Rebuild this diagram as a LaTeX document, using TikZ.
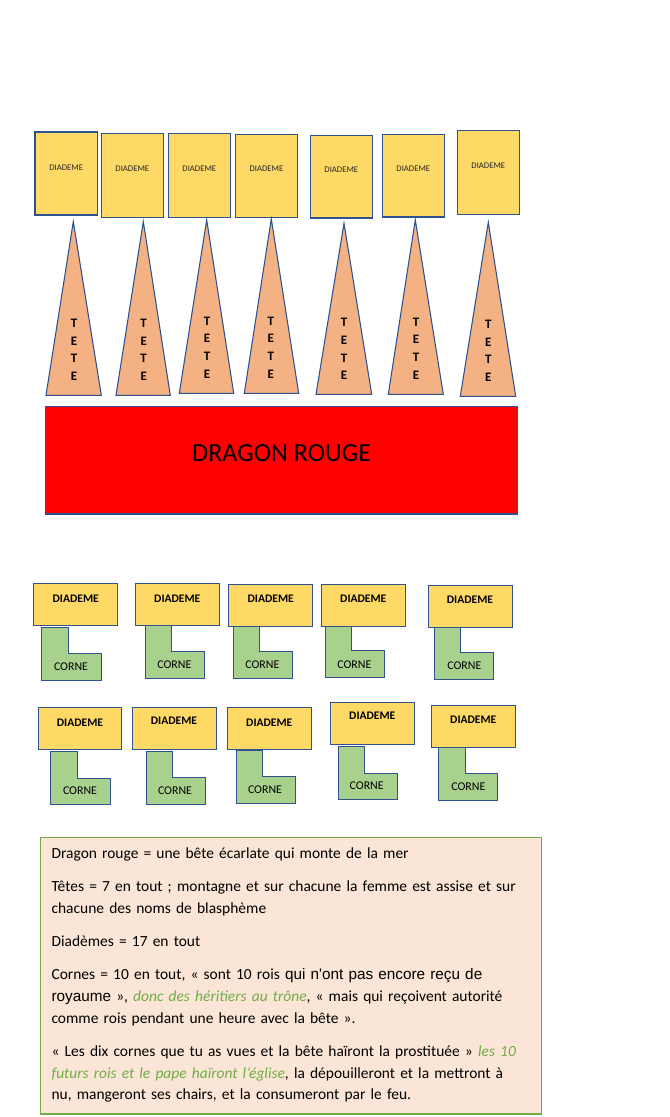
\documentclass[tikz,border=0pt]{standalone}
\usepackage{fontspec}
\setmainfont{Carlito}
\newfontfamily\arialfont[Scale=0.99]{Liberation Sans}
\definecolor{bordBleu}{RGB}{47,82,143}
\definecolor{jauneDiad}{RGB}{255,217,102}
\definecolor{saumonTete}{RGB}{244,177,131}
\definecolor{vertCorne}{RGB}{169,209,142}
\definecolor{rougeDragon}{RGB}{255,0,0}
\definecolor{peche}{RGB}{251,229,214}
\definecolor{vertTexte}{RGB}{112,173,71}
\definecolor{texteSombre}{RGB}{38,38,38}

\tikzset{
  diadHaut/.style={draw=bordBleu,fill=jauneDiad,line width=0.8pt},
  motHaut/.style={text=texteSombre,inner sep=0pt,font=\fontsize{6.5}{7.5}\selectfont},
  teteTri/.style={draw=bordBleu,fill=saumonTete,line width=0.8pt,line join=miter},
  motTete/.style={align=center,inner sep=0pt,font=\bfseries\fontsize{9.7}{13.3}\selectfont},
  diadBas/.style={draw=bordBleu,fill=jauneDiad,line width=0.8pt},
  motDiad/.style={inner sep=0pt,font=\bfseries\fontsize{8.7}{10}\selectfont},
  corneL/.style={draw=bordBleu,fill=vertCorne,line width=0.8pt},
  motCorne/.style={inner sep=0pt,font=\fontsize{8.9}{10}\selectfont},
  cadreNotes/.style={draw=vertTexte,fill=peche,line width=0.8pt}
}

\begin{document}
\begin{tikzpicture}[x=0.75pt,y=0.75pt]
\path[use as bounding box] (0,0) rectangle (670,-1117);

% les sept diademes du haut
\draw[diadHaut] (35,-132) rectangle (97.5,-215);
\node[motHaut] (dh1) at (66.2,-167.3) {DIADEME};
\draw[diadHaut] (101.3,-133.3) rectangle (163.3,-217.3);
\node[motHaut] (dh2) at (132.3,-169) {DIADEME};
\draw[diadHaut] (168.3,-133.3) rectangle (230.3,-217.3);
\node[motHaut] (dh3) at (199.3,-169) {DIADEME};
\draw[diadHaut] (235.3,-134.3) rectangle (297.7,-217.3);
\node[motHaut] (dh4) at (266.5,-168.7) {DIADEME};
\draw[diadHaut] (310.3,-135.3) rectangle (372.3,-218);
\node[motHaut] (dh5) at (341.3,-169.7) {DIADEME};
\draw[diadHaut] (382.3,-134.3) rectangle (444.3,-217);
\node[motHaut] (dh6) at (413.3,-168.7) {DIADEME};
\draw[diadHaut] (457.3,-130.3) rectangle (519.3,-214.3);
\node[motHaut] (dh7) at (488.3,-165.7) {DIADEME};

% les sept tetes
\draw[teteTri] (73.3,-221.7) -- (101.3,-395.3) -- (46,-395.3) -- cycle;
\node[motTete] (t1) at (74,-349.9) {T\\E\\T\\E};
\draw[teteTri] (143.3,-221.7) -- (170.3,-395.3) -- (116,-395.3) -- cycle;
\node[motTete] (t2) at (143.7,-349.9) {T\\E\\T\\E};
\draw[teteTri] (206.7,-220) -- (233.7,-393.3) -- (179.3,-393.3) -- cycle;
\node[motTete] (t3) at (207,-347.5) {T\\E\\T\\E};
\draw[teteTri] (271.3,-219) -- (298.7,-393.3) -- (244.3,-393.3) -- cycle;
\node[motTete] (t4) at (270.7,-347.5) {T\\E\\T\\E};
\draw[teteTri] (344,-223.3) -- (371.7,-394.3) -- (316,-394.3) -- cycle;
\node[motTete] (t5) at (344,-349.2) {T\\E\\T\\E};
\draw[teteTri] (415.3,-220) -- (443.3,-394.3) -- (388.3,-394.3) -- cycle;
\node[motTete] (t6) at (416,-348.5) {T\\E\\T\\E};
\draw[teteTri] (488.3,-222.3) -- (515.7,-396.3) -- (460.3,-396.3) -- cycle;
\node[motTete] (t7) at (488.3,-350.9) {T\\E\\T\\E};

% le dragon
\draw[draw=bordBleu,fill=rougeDragon,line width=0.8pt] (45.3,-406.3) rectangle (517.7,-514);
\node[inner sep=0pt,font=\fontsize{19.6}{22}\selectfont] (dragon) at (281.7,-453.6) {DRAGON ROUGE};

% cornes, premiere rangee
\draw[corneL] (41.7,-627.3) -- (68.7,-627.3) -- (68.7,-653.7) -- (101.7,-653.7) -- (101.7,-680.3) -- (41.7,-680.3) -- cycle;
\node[motCorne] (c1) at (71,-666.7) {CORNE};
\draw[corneL] (145.3,-625.3) -- (171.3,-625.3) -- (171.3,-651.7) -- (204.3,-651.7) -- (204.3,-678.3) -- (145.3,-678.3) -- cycle;
\node[motCorne] (c2) at (174.3,-665) {CORNE};
\draw[corneL] (233.7,-626.7) -- (259.3,-626.7) -- (259.3,-651.7) -- (292.7,-651.7) -- (292.7,-678.3) -- (233.7,-678.3) -- cycle;
\node[motCorne] (c3) at (262.3,-665) {CORNE};
\draw[corneL] (325.7,-626.3) -- (351.7,-626.3) -- (351.7,-650.7) -- (384.3,-650.7) -- (384.3,-677.3) -- (325.7,-677.3) -- cycle;
\node[motCorne] (c4) at (354.3,-664.3) {CORNE};
\draw[corneL] (434.7,-627.3) -- (460.3,-627.3) -- (460.3,-652.3) -- (493.7,-652.3) -- (493.7,-679.3) -- (434.7,-679.3) -- cycle;
\node[motCorne] (c5) at (464.3,-666) {CORNE};

% diademes, premiere rangee
\draw[diadBas] (33.3,-583.3) rectangle (117.7,-625.3);
\node[motDiad] (db1) at (75.7,-598.3) {DIADEME};
\draw[diadBas] (135.7,-583.3) rectangle (219.3,-625.3);
\node[motDiad] (db2) at (177.3,-598.3) {DIADEME};
\draw[diadBas] (228.3,-584.3) rectangle (312.7,-626.7);
\node[motDiad] (db3) at (270.7,-598.3) {DIADEME};
\draw[diadBas] (321.7,-584.3) rectangle (405.7,-626.3);
\node[motDiad] (db4) at (363.3,-598.3) {DIADEME};
\draw[diadBas] (428.3,-585.3) rectangle (512.7,-627.3);
\node[motDiad] (db5) at (470,-600) {DIADEME};

% cornes, deuxieme rangee
\draw[corneL] (50.7,-751.3) -- (77.3,-751.3) -- (77.3,-778.7) -- (110.7,-778.7) -- (110.7,-804.3) -- (50.7,-804.3) -- cycle;
\node[motCorne] (c6) at (80,-790.7) {CORNE};
\draw[corneL] (146.3,-751.3) -- (172.7,-751.3) -- (172.7,-777.7) -- (205.7,-777.7) -- (205.7,-804.3) -- (146.3,-804.3) -- cycle;
\node[motCorne] (c7) at (175,-790.7) {CORNE};
\draw[corneL] (236.7,-750.3) -- (262.3,-750.3) -- (262.3,-776.3) -- (295.7,-776.3) -- (295.7,-803.3) -- (236.7,-803.3) -- cycle;
\node[motCorne] (c8) at (265,-790) {CORNE};
\draw[corneL] (338.3,-746.3) -- (364.3,-746.3) -- (364.3,-773.3) -- (397.7,-773.3) -- (397.7,-799.3) -- (338.3,-799.3) -- cycle;
\node[motCorne] (c9) at (366.7,-785.7) {CORNE};
\draw[corneL] (438.3,-747.3) -- (465.3,-747.3) -- (465.3,-773.3) -- (497.3,-773.3) -- (497.3,-800.3) -- (438.3,-800.3) -- cycle;
\node[motCorne] (c10) at (468.3,-786.7) {CORNE};

% diademes, deuxieme rangee
\draw[diadBas] (38.3,-707.3) rectangle (121.7,-749.3);
\node[motDiad] (db6) at (80,-722.3) {DIADEME};
\draw[diadBas] (132.3,-707.3) rectangle (216.7,-749.3);
\node[motDiad] (db7) at (174,-720.7) {DIADEME};
\draw[diadBas] (227.3,-707.3) rectangle (311.7,-749.3);
\node[motDiad] (db8) at (269.3,-722.3) {DIADEME};
\draw[diadBas] (330.3,-702.3) rectangle (414.3,-744.3);
\node[motDiad] (db9) at (372.3,-715.7) {DIADEME};
\draw[diadBas] (431.3,-705.3) rectangle (515.7,-747.3);
\node[motDiad] (db10) at (473.3,-720) {DIADEME};

% la legende
\draw[cadreNotes] (40.7,-837.3) rectangle (541.3,-1114);
\node[anchor=north west,inner sep=0pt,text width=370pt,align=left,font=\fontsize{11.6}{16.3}\selectfont] (notes) at (51.3,-847.3) {Dragon rouge = une bête écarlate qui monte de la mer\\[8.6pt]
Têtes = 7 en tout ; montagne et sur chacune la femme est assise et sur\\
chacune des noms de blasphème\\[8.6pt]
Diadèmes = 17 en tout\\[8.6pt]
Cornes = 10 en tout, « sont 10 rois {\arialfont qui n'ont pas encore reçu de}\\
{\arialfont royaume} », {\color{vertTexte}\itshape donc des héritiers au trône}, « mais qui reçoivent autorité\\
comme rois pendant une heure avec la bête ».\\[8.6pt]
« Les dix cornes que tu as vues et la bête haïront la prostituée » {\color{vertTexte}\itshape les 10}\\
{\color{vertTexte}\itshape futurs rois et le pape haïront l’église}, la dépouilleront et la mettront à\\
nu, mangeront ses chairs, et la consumeront par le feu.};
\end{tikzpicture}
\end{document}
